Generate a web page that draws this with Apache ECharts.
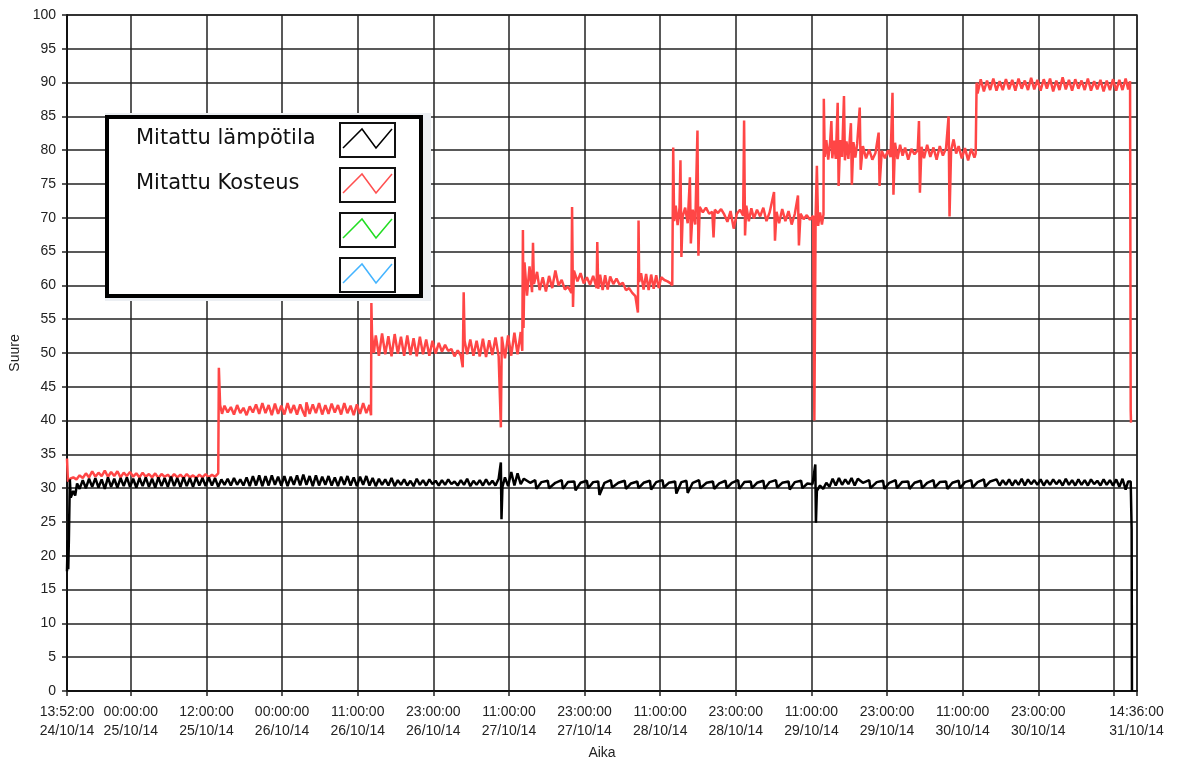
<!DOCTYPE html>
<html>
<head>
<meta charset="utf-8">
<title>Mitattu lämpötila ja kosteus</title>
<script src="https://cdn.jsdelivr.net/npm/echarts@6/dist/echarts.min.js"></script>
<style>
  html, body { margin: 0; padding: 0; background: #fff; }
  #chart { width: 1179px; height: 761px; }
</style>
</head>
<body>
<div id="chart"></div>
<script>
// x = tunnit mittauksen alusta (13:52:00 24/10/14), kesäajan vaihto mukana
var tickHours = [0, 10.133, 22.133, 34.133, 46.133, 58.133, 70.133, 82.133, 94.133, 106.133, 118.133, 130.133, 142.133, 154.133, 166.133, 169.733];
var tickLabels = ['13:52:00\n24/10/14', '00:00:00\n25/10/14', '12:00:00\n25/10/14', '00:00:00\n26/10/14', '11:00:00\n26/10/14',
  '23:00:00\n26/10/14', '11:00:00\n27/10/14', '23:00:00\n27/10/14', '11:00:00\n28/10/14', '23:00:00\n28/10/14',
  '11:00:00\n29/10/14', '23:00:00\n29/10/14', '11:00:00\n30/10/14', '23:00:00\n30/10/14', '', '14:36:00\n31/10/14'];
var seriesNames = ['Mitattu lämpötila', 'Mitattu Kosteus'];

// Mitattu lämpötila [tunti, arvo]
var temperature = [
  [0,17.7],[0.1,22.3],[0.2,18.0],[0.3,22.4],[0.45,31.3],[0.6,28.6],[1.0,29.6],[1.3,28.9],[1.6,30.7],[2.0,29.9],
  [2.5,31.2],[3.0,30.0],[3.5,31.4],[4.0,30.2],[4.5,31.5],[5.0,30.1],[5.5,31.3],[6.0,29.9],[6.5,31.6],[7.0,30.2],
  [7.5,31.4],[8.0,30.1],[8.5,31.5],[9.0,30.3],[9.5,31.6],[10.0,30.2],[10.5,31.4],[11.0,30.1],[11.5,31.5],[12.0,30.3],
  [12.5,31.6],[13.0,30.2],[13.5,31.4],[14.0,30.1],[14.5,31.6],[15.0,30.3],[15.5,31.5],[16.0,30.2],[16.5,31.7],[17.0,30.3],
  [17.5,31.5],[18.0,30.2],[18.5,31.6],[19.0,30.3],[19.5,31.5],[20.0,30.2],[20.5,31.6],[21.0,30.4],[21.5,31.5],[22.0,30.3],
  [22.5,31.6],[23.0,30.4],[23.5,31.5],[24.0,30.2],[24.5,31.3],[25.0,30.5],[25.5,31.4],[26.0,30.4],[26.5,31.5],[27.0,30.5],
  [27.5,31.3],[28.0,30.4],[28.5,31.6],[29.0,30.3],[29.5,31.8],[30.0,30.4],[30.5,31.9],[31.0,30.3],[31.5,31.8],[32.0,30.4],
  [32.5,31.9],[33.0,30.5],[33.5,31.7],[34.0,30.4],[34.5,31.8],[35.0,30.3],[35.5,31.7],[36.0,30.5],[36.5,31.9],[37.0,30.4],
  [37.5,32.0],[38.0,30.5],[38.5,31.8],[39.0,30.3],[39.5,31.9],[40.0,30.4],[40.5,31.7],[41.0,30.5],[41.5,31.8],[42.0,30.4],
  [42.5,31.6],[43.0,30.3],[43.5,31.7],[44.0,30.5],[44.5,31.8],[45.0,30.4],[45.5,31.6],[46.0,30.3],[46.5,31.7],[47.0,30.5],
  [47.5,31.8],[48.0,30.4],[48.5,31.5],[49.0,30.3],[49.5,31.4],[50.0,30.5],[50.5,31.3],[51.0,30.4],[51.5,31.5],[52.0,30.3],
  [52.5,31.2],[53.0,30.5],[53.5,31.3],[54.0,30.4],[54.5,31.1],[55.0,30.3],[55.5,31.4],[56.0,30.5],[56.5,31.2],[57.0,30.4],
  [57.5,31.3],[58.0,30.6],[58.5,31.1],[59.0,30.4],[59.5,31.2],[60.0,30.5],[60.5,31.3],[61.0,30.6],[61.5,31.0],[62.0,30.4],
  [62.5,31.2],[63.0,30.5],[63.5,31.4],[64.0,30.3],[64.5,31.1],[65.0,30.5],[65.5,31.2],[66.0,30.4],[66.5,31.3],[67.0,30.5],
  [67.5,31.1],[68.0,30.4],[68.5,31.4],[68.85,33.8],[68.95,25.4],[69.1,30.2],[69.5,31.6],[70.0,30.3],[70.5,32.4],[71.0,30.4],
  [71.5,32.2],[72.0,30.6],[72.5,31.4],[73.5,30.8],[74.3,31.2],[74.5,29.9],[75.3,30.9],[76.3,31.1],[76.5,30.0],[77.5,30.8],
  [78.5,31.2],[78.7,29.9],[79.5,30.9],[80.5,31.0],[80.7,29.7],[81.5,30.8],[82.5,31.1],[82.7,30.0],[83.5,30.9],[84.3,31.0],
  [84.5,29.0],[85.3,30.8],[86.3,31.2],[86.5,30.1],[87.5,30.8],[88.5,31.1],[88.7,29.9],[89.5,30.7],[90.5,31.0],[90.7,30.0],
  [91.5,30.8],[92.5,31.1],[92.7,29.8],[93.5,30.9],[94.5,31.2],[94.7,30.1],[95.5,30.8],[96.5,31.0],[96.7,29.2],[97.5,30.9],
  [98.3,31.1],[98.5,29.3],[99.3,30.8],[100.3,31.2],[100.5,30.0],[101.5,30.8],[102.5,31.0],[102.7,29.9],[103.5,30.7],[104.5,31.1],
  [104.7,30.0],[105.5,30.8],[106.5,31.2],[106.7,29.9],[107.5,30.9],[108.5,31.0],[108.7,30.0],[109.5,30.8],[110.5,31.1],[110.7,29.9],
  [111.5,30.9],[112.5,31.2],[112.7,30.1],[113.5,30.8],[114.5,31.0],[114.7,29.8],[115.5,30.9],[116.5,31.1],[116.7,30.0],[117.5,30.7],
  [118.3,30.6],[118.75,33.5],[118.85,24.9],[119.0,29.6],[119.5,30.4],[120.0,29.9],[120.5,30.8],[121.0,30.2],[121.5,31.4],[122.0,30.4],
  [122.5,31.5],[123.0,30.5],[123.5,31.3],[124.0,30.6],[124.5,31.5],[125.0,30.4],[125.5,31.4],[126.3,30.8],[127.3,31.2],[127.5,30.0],
  [128.5,30.9],[129.5,31.1],[129.7,29.9],[130.5,30.8],[131.5,31.2],[131.7,30.0],[132.5,30.9],[133.5,31.0],[133.7,29.9],[134.5,30.8],
  [135.5,31.1],[135.7,30.0],[136.5,30.8],[137.5,31.2],[137.7,30.1],[138.5,30.9],[139.5,31.0],[139.7,29.9],[140.5,30.8],[141.5,31.1],
  [141.7,30.0],[142.5,30.9],[143.5,31.2],[143.7,30.1],[144.5,30.9],[145.5,31.3],[145.7,30.2],[146.5,31.0],[147.5,31.3],[148.0,30.4],
  [148.5,31.2],[149.0,30.5],[149.5,31.3],[150.0,30.4],[150.5,31.2],[151.0,30.5],[151.5,31.4],[152.0,30.4],[152.5,31.3],[153.0,30.6],
  [153.5,31.2],[154.0,30.5],[154.5,31.3],[155.0,30.4],[155.5,31.2],[156.0,30.5],[156.5,31.3],[157.0,30.6],[157.5,31.2],[158.0,30.4],
  [158.5,31.4],[159.0,30.5],[159.5,31.2],[160.0,30.4],[160.5,31.3],[161.0,30.5],[161.5,31.2],[162.0,30.4],[162.5,31.3],[163.0,30.6],
  [163.5,31.1],[164.0,30.4],[164.5,31.3],[165.0,30.5],[165.5,31.2],[166.0,30.4],[166.5,31.3],[167.0,30.2],[167.5,31.4],[168.0,29.8],
  [168.4,31.0],[168.8,31.0],[168.95,23.9],[169.0,0]
];

// Mitattu Kosteus [tunti, arvo]
var humidity = [
  [0,34.4],[0.15,31.0],[0.5,31.4],[1,31.6],[1.5,31.3],[2,31.9],[2.5,31.5],[3,32.2],[3.5,31.6],[4,32.5],
  [4.5,31.7],[5,32.3],[5.5,31.8],[6,32.6],[6.5,31.7],[7,32.4],[7.5,31.8],[8,32.5],[8.5,31.6],[9,32.3],
  [9.5,31.8],[10,32.4],[10.5,31.7],[11,32.2],[11.5,31.6],[12,32.3],[12.5,31.7],[13,32.1],[13.5,31.6],[14,32.2],
  [14.5,31.5],[15,32.1],[15.5,31.7],[16,32.0],[16.5,31.5],[17,32.1],[17.5,31.6],[18,32.0],[18.5,31.5],[19,32.1],
  [19.5,31.6],[20,31.9],[20.5,31.5],[21,32.0],[21.5,31.6],[22,32.1],[22.5,31.6],[23,32.0],[23.5,31.7],[24.0,32.2],
  [24.1,47.8],[24.3,42.3],[24.6,41.0],[25,42.2],[25.5,41.2],[26,42.0],[26.5,40.9],[27,42.3],[27.5,41.1],[28,41.9],
  [28.5,40.8],[29,42.1],[29.5,41.2],[30,42.4],[30.5,41.0],[31,42.6],[31.5,41.1],[32,42.3],[32.5,40.8],[33,42.5],
  [33.5,41.0],[34,42.2],[34.5,40.9],[35,42.6],[35.5,41.1],[36,42.3],[36.5,40.9],[37,42.4],[37.5,41.2],[37.8,40.6],
  [38,42.7],[38.5,41.0],[39,42.4],[39.5,41.1],[40,42.6],[40.5,40.9],[41,42.3],[41.5,41.0],[42,42.5],[42.5,41.2],
  [43,42.3],[43.5,40.9],[44,42.6],[44.5,41.1],[45,42.2],[45.5,40.8],[46,42.4],[46.5,41.0],[47,42.6],[47.5,41.1],
  [48,42.3],[48.25,40.8],[48.3,57.4],[48.4,52.8],[48.7,50.0],[49,52.6],[49.5,49.6],[50,52.9],[50.5,49.8],[51,52.5],
  [51.5,49.5],[52,52.8],[52.5,49.9],[53,52.4],[53.5,49.6],[54,52.6],[54.5,49.7],[55,52.2],[55.5,49.5],[56,52.4],
  [56.5,49.8],[57,52.0],[57.5,49.6],[58,51.8],[58.5,49.9],[59,51.5],[59.5,50.2],[60,51.2],[60.5,50.3],[61,50.6],
  [61.5,49.5],[62,50.4],[62.5,49.6],[62.8,47.9],[62.95,59.0],[63.1,51.8],[63.5,49.8],[64,52.0],[64.5,49.6],[65,51.8],
  [65.5,49.5],[66,52.1],[66.5,49.4],[67,51.9],[67.5,49.7],[68,52.3],[68.5,49.5],[68.85,39.0],[69.0,52.4],[69.5,49.2],
  [70,52.6],[70.5,49.6],[71,53.0],[71.5,49.8],[72,53.1],[72.25,50.3],[72.35,68.2],[72.45,53.7],[72.6,63.4],[73,58.5],
  [73.4,62.8],[73.8,59.0],[73.95,66.3],[74.1,60.2],[74.6,62.0],[75,59.3],[75.5,61.2],[76,59.1],[76.5,61.4],[77,59.6],
  [77.5,62.2],[78,60.0],[78.5,60.8],[79,59.4],[79.5,59.8],[80.05,58.9],[80.15,71.6],[80.3,56.8],[80.45,62.2],[81,60.6],
  [81.5,61.8],[82,60.3],[82.5,61.2],[83,60.1],[83.5,61.4],[84.05,59.6],[84.15,66.4],[84.3,59.5],[84.6,61.6],[85,59.3],
  [85.4,61.5],[85.8,59.4],[86.2,61.3],[86.7,60.2],[87.2,61.0],[87.7,60.1],[88.2,60.4],[88.7,59.3],[89.2,59.6],[89.7,58.9],
  [90.2,58.4],[90.6,56.0],[90.7,69.6],[90.8,60.5],[91.1,61.8],[91.5,59.4],[91.9,61.7],[92.3,59.3],[92.7,61.6],[93.1,59.5],
  [93.5,61.5],[93.9,59.6],[94.3,61.2],[94.8,60.8],[95.3,60.6],[95.8,60.3],[96.05,60.0],[96.2,80.4],[96.35,69.5],[96.6,71.8],
  [96.9,68.9],[97.2,71.5],[97.35,78.5],[97.5,64.2],[97.7,70.2],[98.1,71.5],[98.5,69.2],[98.85,76.0],[99.0,66.2],[99.3,71.2],
  [99.7,69.0],[100.05,82.9],[100.2,64.4],[100.4,71.6],[100.9,70.8],[101.4,71.5],[101.9,70.6],[102.4,70.9],[102.6,67.1],[102.8,71.2],
  [103.3,70.7],[103.8,71.3],[104.3,70.5],[104.8,69.4],[105.3,71.0],[105.8,68.4],[106.3,70.6],[106.8,71.2],[107.3,70.3],[107.45,84.4],
  [107.6,67.4],[107.8,71.8],[108.2,69.5],[108.6,71.4],[109,69.9],[109.5,71.2],[110,70.2],[110.5,71.5],[111,69.5],[111.5,70.8],
  [112.2,73.8],[112.35,66.6],[112.6,70.9],[113,69.2],[113.5,71.3],[114,69.5],[114.5,71.0],[115,69.0],[115.5,70.6],[116.0,73.3],
  [116.15,65.9],[116.4,70.6],[116.9,69.8],[117.4,70.4],[117.9,69.7],[118.4,70.3],[118.6,40.0],[118.8,70.2],[119.0,77.7],[119.2,68.8],
  [119.5,70.8],[119.8,69.0],[120.05,70.5],[120.1,87.6],[120.25,79.0],[120.5,81.5],[120.8,78.6],[121.1,81.2],[121.3,84.3],[121.45,78.8],
  [121.7,81.4],[122.0,78.7],[122.3,87.0],[122.45,74.7],[122.7,81.5],[123.0,79.0],[123.3,88.0],[123.45,78.5],[123.7,81.3],[124.0,78.7],
  [124.4,84.0],[124.55,74.9],[124.8,81.2],[125.1,78.9],[125.4,81.0],[125.8,86.3],[125.95,77.1],[126.3,80.6],[126.8,78.8],[127.3,80.1],
  [127.8,78.6],[128.3,79.6],[128.8,82.6],[128.95,74.7],[129.3,79.9],[129.8,78.8],[130.3,80.0],[130.7,79.0],[131.0,88.5],[131.15,73.4],
  [131.4,81.1],[131.8,78.7],[132.2,80.8],[132.6,79.2],[133.0,80.4],[133.5,78.6],[134.0,80.2],[134.5,79.4],[135.0,80.0],[135.2,84.3],
  [135.35,73.7],[135.6,80.5],[136.0,78.8],[136.5,80.8],[137.0,79.0],[137.5,80.4],[138.0,78.6],[138.5,80.6],[139.0,79.2],[139.5,80.3],
  [139.9,85.0],[140.05,70.2],[140.3,80.0],[140.7,81.6],[141.1,79.5],[141.5,80.6],[142.0,78.8],[142.5,80.3],[143.0,78.5],[143.5,80.2],
  [144.0,78.9],[144.2,79.5],[144.35,90.0],[144.5,88.4],[145,90.5],[145.5,88.7],[146,90.3],[146.5,88.9],[147,90.6],[147.5,88.8],
  [148,90.2],[148.5,88.9],[149,90.5],[149.5,89.0],[150,90.4],[150.5,88.8],[151,90.6],[151.5,89.1],[152,90.3],[152.5,88.9],
  [153,90.7],[153.5,89.0],[154,90.4],[154.5,88.8],[155,90.5],[155.5,89.1],[156,90.6],[156.5,88.7],[157,90.3],[157.5,88.9],
  [158,90.8],[158.5,89.0],[159,90.4],[159.5,88.8],[160,90.5],[160.5,89.1],[161,90.3],[161.5,88.9],[162,90.6],[162.5,88.8],
  [163,90.2],[163.5,89.0],[164,90.4],[164.5,88.7],[165,90.3],[165.5,88.9],[166,90.5],[166.5,88.8],[167,90.4],[167.5,88.9],
  [168,90.6],[168.4,89.0],[168.7,90.2],[168.8,41.6],[168.85,39.7]
];

var gridColor = '#222';
var fontAxis = 'Liberation Sans, Arial, sans-serif';

function legendIcon(y, color) {
  return {
    type: 'group', x: 340, y: y,
    children: [
      { type: 'rect', z: 102, shape: { x: 0, y: 0, width: 55, height: 34 }, style: { fill: '#fff', stroke: '#111', lineWidth: 2 } },
      { type: 'polyline', z: 103, shape: { points: [[3, 25], [22, 6], [36, 25], [52, 6]] }, style: { stroke: color, lineWidth: 1.5, fill: null } }
    ]
  };
}

var chart = echarts.init(document.getElementById('chart'));
chart.setOption({
  animation: false,
  backgroundColor: '#fff',
  textStyle: { fontFamily: fontAxis },
  grid: { left: 67, right: 42, top: 15, bottom: 70, show: true, borderColor: '#333', borderWidth: 1.5, outerBoundsMode: 'none', containLabel: false },
  xAxis: {
    type: 'value',
    min: 0,
    max: 169.8,
    name: 'Aika',
    nameLocation: 'middle',
    nameGap: 55,
    nameTextStyle: { color: '#222', fontSize: 14, fontFamily: fontAxis },
    axisLine: { lineStyle: { color: '#111', width: 2 } },
    axisTick: { show: true, inside: false, length: 5, customValues: tickHours, lineStyle: { color: '#222', width: 1.5 } },
    axisLabel: {
      customValues: tickHours.filter(function (h, i) { return tickLabels[i] !== ''; }),
      formatter: function (v) {
        for (var i = 0; i < tickHours.length; i++) {
          if (Math.abs(tickHours[i] - v) < 0.01) return tickLabels[i];
        }
        return '';
      },
      color: '#222', fontSize: 14, lineHeight: 19, margin: 12, fontFamily: fontAxis
    },
    splitLine: { show: true, lineStyle: { color: gridColor, width: 1.5 } }
  },
  yAxis: {
    type: 'value',
    min: 0,
    max: 100,
    interval: 5,
    name: 'Suure',
    nameLocation: 'middle',
    nameGap: 34,
    nameTextStyle: { color: '#222', fontSize: 14, fontFamily: fontAxis },
    axisLine: { show: true, lineStyle: { color: '#111', width: 2 } },
    axisTick: { show: true, inside: false, length: 5, lineStyle: { color: '#222', width: 1.5 } },
    axisLabel: { color: '#222', fontSize: 14, margin: 11, fontFamily: fontAxis },
    splitLine: { show: true, lineStyle: { color: gridColor, width: 1.5 } }
  },
  series: [
    {
      name: seriesNames[1], type: 'line', data: humidity, showSymbol: false, symbol: 'none', z: 3,
      lineStyle: { color: '#ff4646', width: 2.5 }
    },
    {
      name: seriesNames[0], type: 'line', data: temperature, showSymbol: false, symbol: 'none', z: 4,
      lineStyle: { color: '#000', width: 2.5 }
    }
  ],
  graphic: [
    { type: 'rect', z: 100, shape: { x: 105, y: 113, width: 326, height: 188 }, style: { fill: '#eceff3' } },
    { type: 'rect', z: 101, shape: { x: 107, y: 117, width: 314, height: 179 }, style: { fill: '#fff', stroke: '#000', lineWidth: 4 } },
    { type: 'text', z: 102, x: 136, y: 139, style: { text: seriesNames[0], fill: '#111', font: '21px "DejaVu Sans", sans-serif', verticalAlign: 'middle' } },
    { type: 'text', z: 102, x: 136, y: 184, style: { text: seriesNames[1], fill: '#111', font: '21px "DejaVu Sans", sans-serif', verticalAlign: 'middle' } },
    legendIcon(123, '#000'),
    legendIcon(168, '#ff5050'),
    legendIcon(213, '#22dd22'),
    legendIcon(258, '#44b4ff')
  ]
});
</script>
</body>
</html>
